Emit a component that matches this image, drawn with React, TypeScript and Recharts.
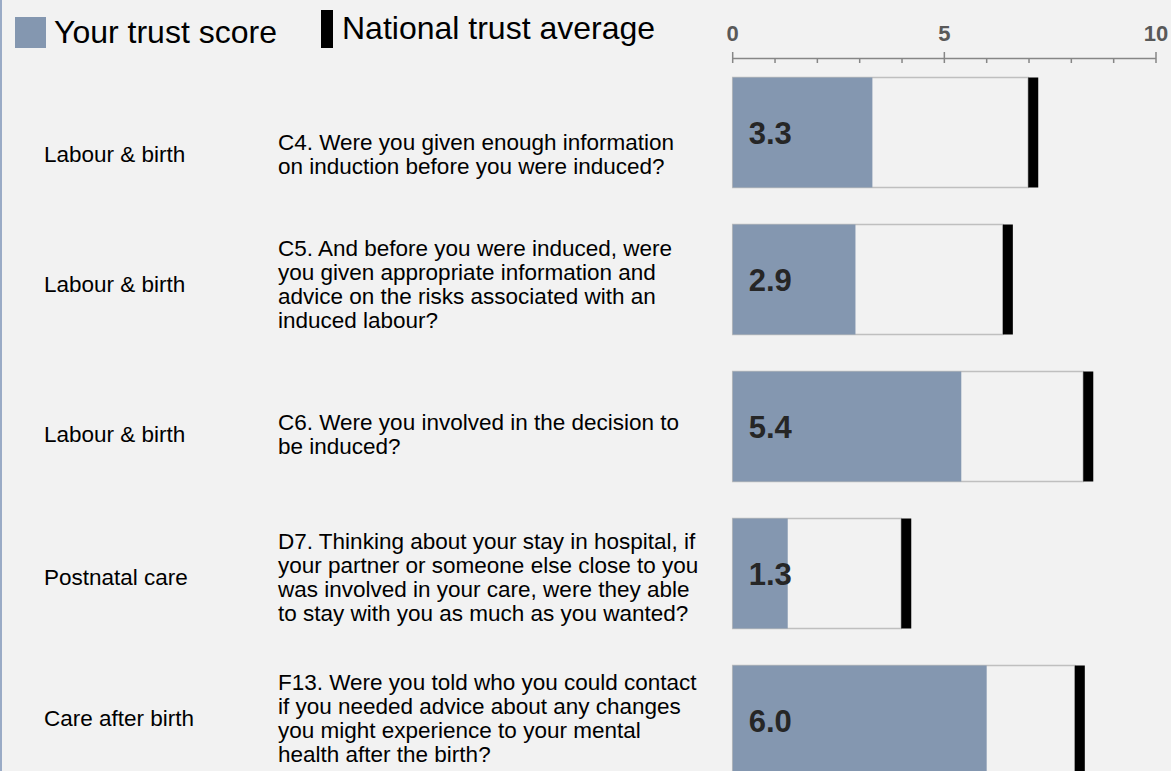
import React from "react";
import { ComposedChart, Bar, XAxis, YAxis, LabelList } from "recharts";

// ---- data ----
const categories = [
  "Labour & birth",
  "Labour & birth",
  "Labour & birth",
  "Postnatal care",
  "Care after birth",
];

const questions = [
  "C4. Were you given enough information\non induction before you were induced?",
  "C5. And before you were induced, were\nyou given appropriate information and\nadvice on the risks associated with an\ninduced labour?",
  "C6. Were you involved in the decision to\nbe induced?",
  "D7. Thinking about your stay in hospital, if\nyour partner or someone else close to you\nwas involved in your care, were they able\nto stay with you as much as you wanted?",
  "F13. Were you told who you could contact\nif you needed advice about any changes\nyou might experience to your mental\nhealth after the birth?",
];

const trustScores = [3.3, 2.9, 5.4, 1.3, 6.0];
const nationalAverages = [7.1, 6.5, 8.4, 4.1, 8.2];

const axisTicks = [0, 1, 2, 3, 4, 5, 6, 7, 8, 9, 10];
const labelledTicks = [0, 5, 10];

const legendLabels = ["Your trust score", "National trust average"];

// ---- styling ----
const FONT = "'Liberation Sans', Arial, sans-serif";
const BG = "#f2f2f2";
const SCORE_COLOR = "#8497b0";
const AXIS_COLOR = "#868686";
// small vertical nudges of the left-hand text relative to each row's centre
const textNudge = [22, 5, 8, 4, -2];

const data = questions.map((q, i) => ({
  q,
  category: categories[i],
  score: trustScores[i],
  national: nationalAverages[i],
}));

const XTick = (props: any) => {
  const { x, y, payload } = props;
  const v = payload.value;
  const major = labelledTicks.includes(v);
  return (
    <g>
      <line
        x1={x}
        x2={x}
        y1={major ? y - 6.5 : y}
        y2={y + 4.5}
        stroke={AXIS_COLOR}
        strokeWidth={1.5}
      />
      {major && (
        <text
          x={x}
          y={y - 18}
          textAnchor="middle"
          fontFamily={FONT}
          fontWeight="bold"
          fontSize={22}
          fill="#595959"
        >
          {v}
        </text>
      )}
    </g>
  );
};

const YTick = (props: any) => {
  const { y, index, payload } = props;
  const i = typeof index === "number" ? index : questions.indexOf(payload.value);
  const lines = String(payload.value).split("\n");
  const lh = 24;
  const cy = y + (textNudge[i] || 0);
  const firstBaseline = cy - ((lines.length - 1) * lh) / 2 + 8;
  return (
    <g>
      <text x={44} y={cy + 8} fontFamily={FONT} fontSize={22.5} fill="#000" textAnchor="start">
        {categories[i]}
      </text>
      <text x={278} y={firstBaseline} fontFamily={FONT} fontSize={22.5} fill="#000" textAnchor="start">
        {lines.map((ln, k) => (
          <tspan key={k} x={278} dy={k === 0 ? 0 : lh}>
            {ln}
          </tspan>
        ))}
      </text>
    </g>
  );
};

const NationalShape = (props: any) => {
  const { x, y, width, height } = props;
  return (
    <g>
      <rect
        x={x}
        y={y}
        width={Math.max(width - 5, 0)}
        height={height}
        fill={BG}
        stroke="#bfbfbf"
        strokeWidth={1.5}
      />
      <rect x={x + width - 5} y={y} width={10} height={height} fill="#000" />
    </g>
  );
};

const ScoreLabel = (props: any) => {
  const { x, y, height, value } = props;
  return (
    <text
      x={x + 16}
      y={y + height / 2 + 11}
      fontFamily={FONT}
      fontWeight="bold"
      fontSize={31}
      fill="#262626"
    >
      {Number(value).toFixed(1)}
    </text>
  );
};

export default function App() {
  return (
    <div
      style={{
        position: "absolute",
        left: 0,
        top: 0,
        width: 1171,
        height: 771,
        overflow: "hidden",
        background: BG,
        fontFamily: FONT,
      }}
    >
      <style>{"html,body{margin:0;padding:0;overflow:hidden;background:#f2f2f2}"}</style>
      <div
        style={{
          position: "absolute",
          left: 0,
          top: 0,
          width: 2,
          height: 771,
          background: "#9aabc6",
        }}
      />
      <ComposedChart
        width={1171}
        height={800}
        data={data}
        layout="vertical"
        margin={{ top: 18.5, right: 15, bottom: 6.5, left: 731.7 }}
      >
        <XAxis
          type="number"
          orientation="top"
          domain={[0, 10]}
          ticks={axisTicks}
          height={40}
          tickSize={0}
          tickMargin={0}
          tickLine={false}
          axisLine={{ stroke: AXIS_COLOR, strokeWidth: 1.5 }}
          tick={<XTick />}
          interval={0}
        />
        <YAxis
          yAxisId="nat"
          type="category"
          dataKey="q"
          width={1}
          axisLine={false}
          tickLine={false}
          tick={<YTick />}
          interval={0}
        />
        <YAxis yAxisId="score" type="category" dataKey="q" hide />
        <Bar
          yAxisId="nat"
          dataKey="national"
          barSize={110}
          shape={<NationalShape />}
          isAnimationActive={false}
        />
        <Bar
          yAxisId="score"
          dataKey="score"
          barSize={110}
          fill={SCORE_COLOR}
          isAnimationActive={false}
        >
          <LabelList dataKey="score" content={<ScoreLabel />} />
        </Bar>
      </ComposedChart>
      {/* legend */}
      <div style={{ position: "absolute", left: 15, top: 17, width: 31, height: 31, background: SCORE_COLOR }} />
      <div
        style={{
          position: "absolute",
          left: 54,
          top: 12,
          fontSize: 32,
          lineHeight: "40px",
          color: "#000",
          whiteSpace: "nowrap",
        }}
      >
        {legendLabels[0]}
      </div>
      <div style={{ position: "absolute", left: 321, top: 10, width: 12, height: 38, background: "#000" }} />
      <div
        style={{
          position: "absolute",
          left: 342,
          top: 8,
          fontSize: 32,
          lineHeight: "40px",
          color: "#000",
          whiteSpace: "nowrap",
        }}
      >
        {legendLabels[1]}
      </div>
    </div>
  );
}
